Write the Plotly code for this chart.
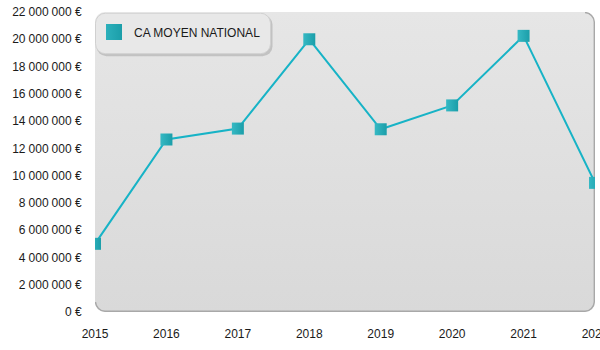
import base64
import plotly.graph_objects as go

# Chiffre d'affaires moyen national par année
years = [2015, 2016, 2017, 2018, 2019, 2020, 2021, 2022]
ca_moyen = [5_000_000, 12_650_000, 13_450_000, 20_000_000,
            13_400_000, 15_150_000, 20_250_000, 9_470_000]
y_ticks = [0, 2_000_000, 4_000_000, 6_000_000, 8_000_000, 10_000_000,
           12_000_000, 14_000_000, 16_000_000, 18_000_000, 20_000_000, 22_000_000]
# French formatting: narrow space between digit groups, no-break space before the currency
y_tick_labels = [f"{v:,}".replace(",", "\u2005") + "\u00a0€" for v in y_ticks]
x_tick_labels = [str(v) for v in years]
grid_vals = y_ticks[1:-1]
series_name = "CA MOYEN NATIONAL"

W, H = 600, 350
M = dict(l=95, r=5, t=12, b=38)
PW, PH = W - M["l"] - M["r"], H - M["t"] - M["b"]
Y_MAX = y_ticks[-1]
PX = Y_MAX / PH  # value per pixel on the y axis


def svg_uri(svg):
    return "data:image/svg+xml;base64," + base64.b64encode(svg.encode()).decode()


# rounded panel with a soft vertical gradient and a darker bottom/right rim
r = 10
panel_svg = f"""<svg xmlns="http://www.w3.org/2000/svg" width="{PW}" height="{PH}" viewBox="0 0 {PW} {PH}" preserveAspectRatio="none">
<defs><linearGradient id="g" x1="0" y1="0" x2="0" y2="1">
<stop offset="0" stop-color="#e6e6e6"/><stop offset="1" stop-color="#d9d9d9"/></linearGradient></defs>
<rect x="0" y="0" width="{PW}" height="{PH}" rx="{r}" ry="{r}" fill="url(#g)"/>
<path d="M0.5,{PH-r} A{r},{r} 0 0 0 {r},{PH-0.7} L{PW-r},{PH-0.7} A{r},{r} 0 0 0 {PW-0.7},{PH-r} L{PW-0.7},{r} A{r},{r} 0 0 0 {PW-r},0.5"
 fill="none" stroke="#a8a8a8" stroke-width="1.4"/>
</svg>"""

# rounded legend frame with a light drop shadow
LW, LH = 180, 46
legend_svg = f"""<svg xmlns="http://www.w3.org/2000/svg" width="{LW}" height="{LH}" viewBox="0 0 {LW} {LH}">
<rect x="1.5" y="2" width="{LW-4}" height="{LH-4.5}" rx="10" ry="10" fill="#b9b9b9" opacity="0.8"/>
<rect x="0.5" y="0.5" width="{LW-5}" height="{LH-5.5}" rx="10" ry="10" fill="#e8e8e8" stroke="#d0d0d0" stroke-width="1"/>
</svg>"""

fig = go.Figure()

fig.add_trace(go.Scatter(
    x=years, y=ca_moyen, name=series_name, mode="lines+markers",
    line=dict(color="#17b3c6", width=2),
    marker=dict(symbol="square", size=12, color="#36b9c4",
                gradient=dict(type="horizontal", color="#1b9ea9"),
                line=dict(width=0)),
    showlegend=False, hoverinfo="x+y",
))

# legend entry (marker only)
fig.add_trace(go.Scatter(
    x=[None], y=[None], name=series_name, mode="markers",
    marker=dict(symbol="square", size=16, color="#2cb0bb",
                gradient=dict(type="horizontal", color="#1b9ea9"),
                line=dict(width=0)),
    showlegend=True,
))

fig.update_layout(
    width=W, height=H, margin=M,
    paper_bgcolor="white", plot_bgcolor="rgba(0,0,0,0)",
    font=dict(family="Liberation Sans, Arial, sans-serif", size=12, color="#1a1a1a"),
    xaxis=dict(range=[years[0], years[-1]], tickvals=years,
               ticktext=x_tick_labels, showgrid=False, zeroline=False,
               showline=False, ticks="outside", ticklen=11,
               tickcolor="rgba(0,0,0,0)", ticklabeloverflow="allow",
               automargin=False, fixedrange=True),
    yaxis=dict(range=[0, Y_MAX], tickvals=y_ticks, ticktext=y_tick_labels,
               showgrid=False, zeroline=False, showline=False,
               ticks="outside", ticklen=10, tickcolor="rgba(0,0,0,0)",
               automargin=False, fixedrange=True),
    # white highlight one pixel below each grid line
    yaxis3=dict(overlaying="y", range=[PX, Y_MAX + PX], tickvals=grid_vals,
                showticklabels=False, showgrid=True, gridcolor="#f4f4f4",
                gridwidth=1, zeroline=False, ticks="", fixedrange=True),
    # grey grid lines
    yaxis2=dict(overlaying="y", range=[0, Y_MAX], tickvals=grid_vals,
                showticklabels=False, showgrid=True, gridcolor="#a9a9a9",
                gridwidth=1, zeroline=False, ticks="", fixedrange=True),
    legend=dict(x=-0.002, xanchor="left", y=0.982, yanchor="top",
                bgcolor="rgba(0,0,0,0)", borderwidth=0,
                font=dict(size=12, color="#1a1a1a"), itemsizing="trace"),
    images=[
        dict(source=svg_uri(panel_svg), xref="paper", yref="paper",
             x=0, y=1, sizex=1, sizey=1, xanchor="left", yanchor="top",
             sizing="stretch", layer="below"),
        dict(source=svg_uri(legend_svg), xref="paper", yref="paper",
             x=0, y=1 - 0.7 / PH, sizex=LW / PW, sizey=LH / PH,
             xanchor="left", yanchor="top", sizing="stretch", layer="above"),
    ],
)

fig.write_html("out.html")
